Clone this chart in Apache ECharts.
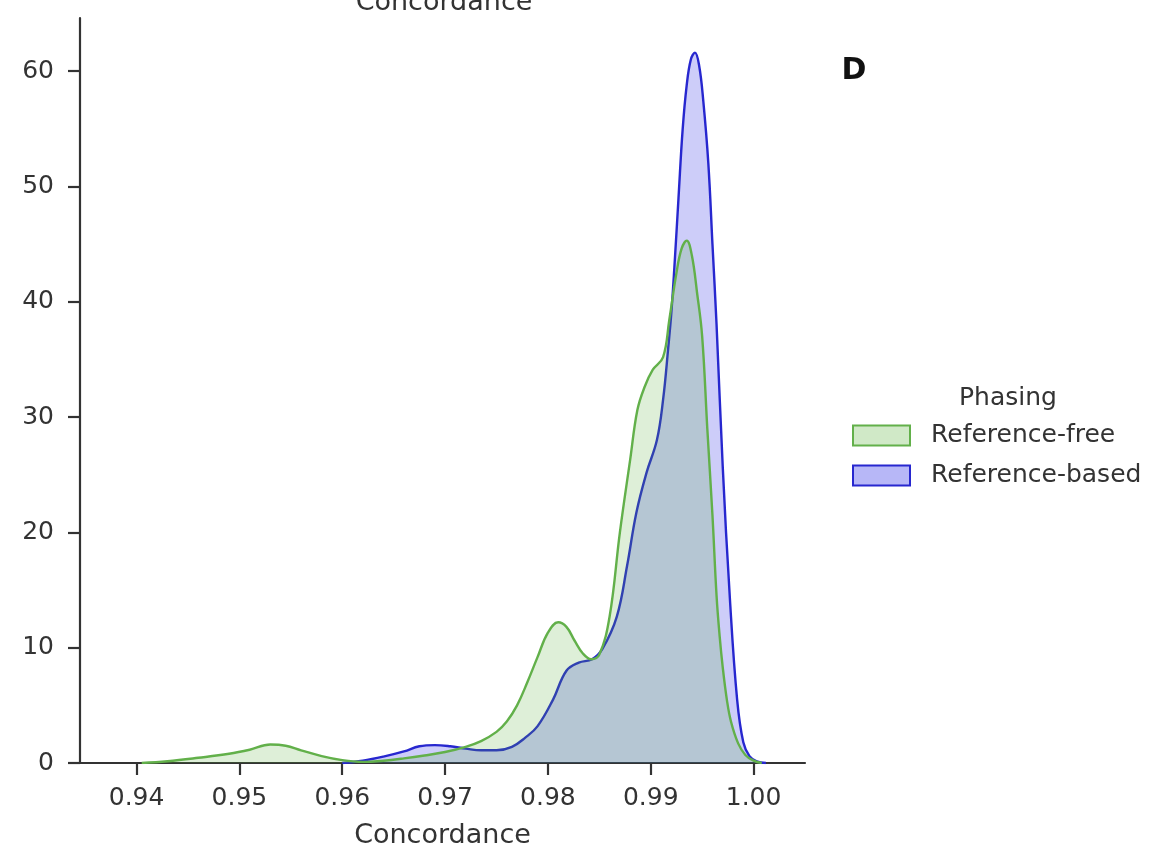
<!DOCTYPE html>
<html><head><meta charset="utf-8">
<script src="https://cdn.jsdelivr.net/npm/echarts@6/dist/echarts.min.js"></script>
<style>html,body{margin:0;padding:0;background:#fff}#c{width:1170px;height:854px}</style>
</head><body><div id="c"></div>
<script>
const seriesNames = ['Reference-free', 'Reference-based'];
const freeX = [0.9405,0.9430,0.9460,0.9490,0.9510,0.9530,0.9545,0.9560,0.9580,0.9600,0.9620,0.9640,0.9660,0.9680,0.9700,0.9720,0.9735,0.9750,0.9760,0.9770,0.9780,0.9790,0.9800,0.9810,0.9818,0.9826,0.9834,0.9842,0.9850,0.9860,0.9870,0.9880,0.9887,0.9894,0.9902,0.9912,0.9918,0.9925,0.9930,0.9935,0.9940,0.9945,0.9950,0.9955,0.9960,0.9964,0.9967,0.9970,0.9974,0.9978,0.9985,0.9992,1.0000,1.0008];
const freeY = [0,0.15,0.45,0.8,1.15,1.6,1.5,1.1,0.6,0.25,0.1,0.2,0.4,0.65,0.95,1.4,1.9,2.7,3.6,5.0,7.0,9.2,11.3,12.2,11.8,10.6,9.5,9.0,9.4,12.7,20.0,26.3,30.6,32.6,34.1,35.2,38.4,42.5,44.6,45.3,44.0,40.8,37.0,29.0,21.5,14.5,11.0,8.3,5.5,3.6,1.7,0.7,0.2,0];
const basedX = [0.9600,0.9620,0.9640,0.9660,0.9675,0.9690,0.9705,0.9720,0.9735,0.9750,0.9765,0.9778,0.9790,0.9805,0.9818,0.9830,0.9843,0.9853,0.9867,0.9877,0.9886,0.9896,0.9906,0.9912,0.9917,0.9920,0.9923,0.9927,0.9931,0.9935,0.9939,0.9943,0.9947,0.9951,0.9956,0.9960,0.9964,0.9970,0.9977,0.9984,0.9990,0.9996,1.0003,1.0012];
const basedY = [0,0.2,0.55,1.0,1.45,1.55,1.45,1.25,1.1,1.1,1.4,2.2,3.2,5.5,8.0,8.7,9.0,9.9,12.7,17.1,21.7,25.2,28.0,31.5,36.0,39.0,43.0,49.0,54.9,58.8,61.0,61.6,60.5,57.5,52.0,45.0,38.0,25.7,14.2,5.5,1.8,0.6,0.15,0];
const xTicks = [0.94,0.95,0.96,0.97,0.98,0.99,1.00];
const yTicks = [0,10,20,30,40,50,60];
const xName = 'Concordance';
const legendTitle = 'Phasing';
const panelLabel = 'D';

const FONT = 'DejaVu Sans';
const TXT = '#333333';
const GREEN_LINE = '#62b04a', GREEN_FILL = 'rgba(85,175,55,0.28)';
const BLUE_LINE = '#2727cf', BLUE_FILL = 'rgba(30,30,230,0.32)';
const zip = (xs, ys) => xs.map((x, i) => [x, ys[i]]);

const chart = echarts.init(document.getElementById('c'), null, {renderer: 'canvas'});
chart.setOption({
  animation: false,
  backgroundColor: '#fff',
  grid: {left: 80, right: 365, top: 18, bottom: 90, containLabel: false},
  xAxis: {
    type: 'value', min: 0.9345, max: 1.005,
    name: xName, nameLocation: 'middle', nameGap: 59,
    nameTextStyle: {fontFamily: FONT, fontSize: 27, color: TXT},
    axisLine: {show: true, lineStyle: {color: TXT, width: 2.2}},
    axisTick: {show: true, length: 12, lineStyle: {color: TXT, width: 2.2}, customValues: xTicks},
    axisLabel: {fontFamily: FONT, fontSize: 25, color: TXT, margin: 23, customValues: xTicks,
      formatter: v => v.toFixed(2)},
    splitLine: {show: false}
  },
  yAxis: {
    type: 'value', min: 0, max: 64.6,
    axisLine: {show: true, lineStyle: {color: TXT, width: 2.2}},
    axisTick: {show: true, length: 12, lineStyle: {color: TXT, width: 2.2}, customValues: yTicks},
    axisLabel: {fontFamily: FONT, fontSize: 25, color: TXT, margin: 26, customValues: yTicks},
    splitLine: {show: false}
  },
  legend: {
    orient: 'vertical', left: 852, top: 423, icon: 'rect', padding: 0,
    itemWidth: 57, itemHeight: 20, itemGap: 15,
    textStyle: {fontFamily: FONT, fontSize: 25, color: TXT, padding: [0, 0, 0, 16]},
    data: [
      {name: seriesNames[0], itemStyle: {color: GREEN_FILL, borderColor: GREEN_LINE, borderWidth: 2}},
      {name: seriesNames[1], itemStyle: {color: BLUE_FILL, borderColor: BLUE_LINE, borderWidth: 2}}
    ]
  },
  graphic: [
    {type: 'text', x: 854, y: 71, style: {text: panelLabel, font: 'bold 30px "DejaVu Sans"', fill: '#111', align: 'center', verticalAlign: 'middle'}},
    {type: 'text', x: 1008, y: 398, style: {text: legendTitle, font: '25px "DejaVu Sans"', fill: TXT, align: 'center', verticalAlign: 'middle'}},
    {type: 'text', x: 444, y: 3, style: {text: xName, font: '27px "DejaVu Sans"', fill: TXT, align: 'center', verticalAlign: 'middle'}}
  ],
  series: [
    {
      name: seriesNames[1], type: 'line', data: zip(basedX, basedY),
      symbol: 'none', smooth: 0.4,
      lineStyle: {color: BLUE_LINE, width: 2.4}, itemStyle: {color: BLUE_LINE},
      areaStyle: {color: BLUE_FILL}, z: 2
    },
    {
      name: seriesNames[0], type: 'line', data: zip(freeX, freeY),
      symbol: 'none', smooth: 0.4,
      lineStyle: {color: GREEN_LINE, width: 2.4}, itemStyle: {color: GREEN_LINE},
      areaStyle: {color: GREEN_FILL}, z: 3
    }
  ]
});
</script>
</body></html>
